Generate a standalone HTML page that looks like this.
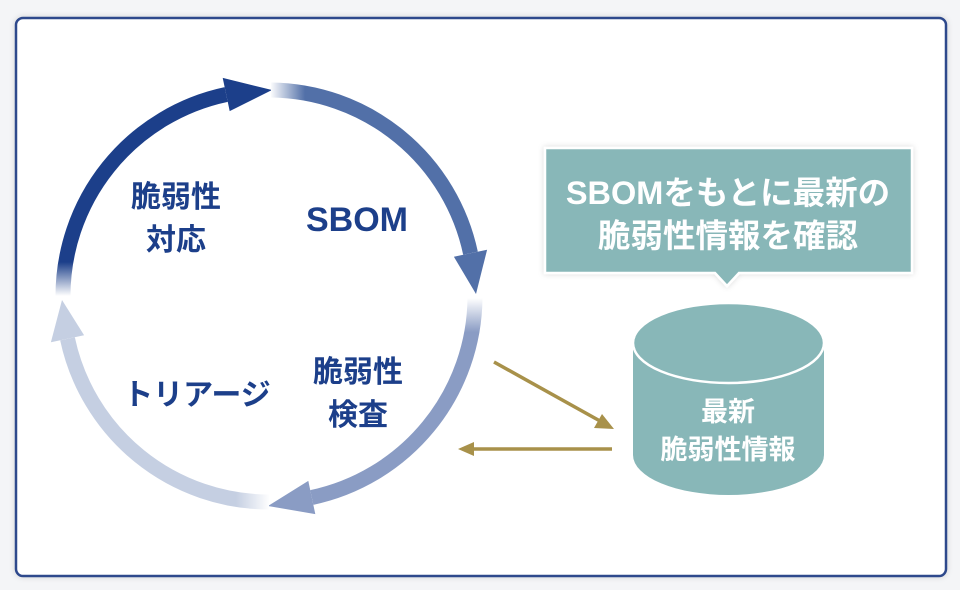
<!DOCTYPE html>
<html><head><meta charset="utf-8"><style>
body{margin:0;width:960px;height:590px;background:#f4f5f7;overflow:hidden;font-family:"Liberation Sans","Noto Sans CJK JP",sans-serif}
</style></head><body>
<svg width="960" height="590" viewBox="0 0 960 590" xmlns="http://www.w3.org/2000/svg" style="position:absolute;left:0;top:0">
<defs>
<linearGradient id="gTL" gradientUnits="userSpaceOnUse" x1="0" y1="296" x2="0" y2="262"><stop offset="0" stop-color="#fff"/><stop offset="1" stop-color="#1c3f8a"/></linearGradient>
<linearGradient id="gTR" gradientUnits="userSpaceOnUse" x1="270" y1="0" x2="305" y2="0"><stop offset="0" stop-color="#fff"/><stop offset="1" stop-color="#5270a8"/></linearGradient>
<linearGradient id="gBR" gradientUnits="userSpaceOnUse" x1="0" y1="298" x2="0" y2="332"><stop offset="0" stop-color="#fff"/><stop offset="1" stop-color="#8a9cc4"/></linearGradient>
<linearGradient id="gBL" gradientUnits="userSpaceOnUse" x1="270" y1="0" x2="236" y2="0"><stop offset="0" stop-color="#fff"/><stop offset="1" stop-color="#c5cfe2"/></linearGradient>
<filter id="sh" x="-5%" y="-5%" width="110%" height="110%"><feDropShadow dx="0" dy="0" stdDeviation="3" flood-color="#000" flood-opacity="0.15"/></filter>
</defs>
<rect x="16" y="18" width="930" height="558" rx="7" fill="#fff" stroke="#2f4a8c" stroke-width="2.5" filter="url(#sh)"/>
<path d="M63 298 A206 206 0 0 1 226.2 94.5" fill="none" stroke="url(#gTL)" stroke-width="15"/>
<polygon points="272,90 222.7,77.9 229.7,111.1" fill="#1c3f8a"/>
<path d="M271 90 A206 206 0 0 1 470.5 253.2" fill="none" stroke="url(#gTR)" stroke-width="15"/>
<polygon points="476,294 487.1,249.7 453.9,256.7" fill="#5270a8"/>
<path d="M475 298 A206 206 0 0 1 311.8 497.5" fill="none" stroke="url(#gBR)" stroke-width="15"/>
<polygon points="268,506 315.3,514.1 308.3,480.9" fill="#8a9cc4"/>
<path d="M269 502 A206 206 0 0 1 67.5 338.8" fill="none" stroke="url(#gBL)" stroke-width="15"/>
<polygon points="62,300 50.9,342.3 84.1,335.3" fill="#c5cfe2"/>
<g fill="#1c3f8a" font-weight="bold" font-size="30" text-anchor="middle">
<text x="176" y="207">脆弱性</text>
<text x="176" y="250">対応</text>
<text x="357" y="231" font-size="34">SBOM</text>
<text x="358" y="382">脆弱性</text>
<text x="358" y="425">検査</text>
<text x="197" y="405">トリアージ</text>
</g>
<line x1="494" y1="362" x2="600" y2="421" stroke="#a8914a" stroke-width="3.5"/>
<polygon points="614,429 594,428 602,414" fill="#a8914a"/>
<line x1="612" y1="449" x2="472" y2="449" stroke="#a8914a" stroke-width="3.5"/>
<polygon points="458,449 474,442 474,456" fill="#a8914a"/>
<g filter="url(#sh)">
<path d="M545 148 H912 V273 H739 L727 286 L715 273 H545 Z" fill="#88b7b8" stroke="#fff" stroke-width="2.5"/>
</g>
<g fill="#fff" font-weight="bold" font-size="32.5" text-anchor="middle">
<text x="728" y="204">SBOMをもとに最新の</text>
<text x="728" y="247">脆弱性情報を確認</text>
</g>
<path d="M633 343 V455 A95.5 40 0 0 0 824 455 V343 Z" fill="#88b7b8"/>
<ellipse cx="728.5" cy="343" rx="95.5" ry="40" fill="#88b7b8" stroke="#fff" stroke-width="2.5"/>
<g fill="#fff" font-weight="bold" font-size="27" text-anchor="middle">
<text x="728" y="421">最新</text>
<text x="728" y="459">脆弱性情報</text>
</g>
</svg>
</body></html>
